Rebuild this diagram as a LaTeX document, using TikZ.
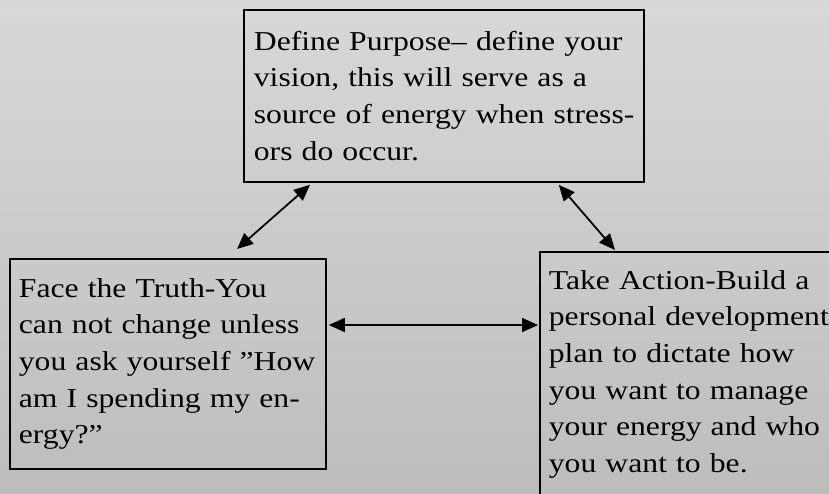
\documentclass[tikz,border=0pt]{standalone}
\usepackage{fontspec}
\setmainfont[FakeStretch=1.16]{Liberation Serif}
\usetikzlibrary{arrows.meta,calc,shapes}
\definecolor{bgtop}{RGB}{216,216,216}
\definecolor{bgbot}{RGB}{189,189,189}
\tikzset{
	>={Triangle[length=16pt,width=14pt]},
	boks/.style={
		rectangle,
		draw=black, line width=1.8pt,
		anchor=north west,
		align=left,
		inner ysep=0pt,
		font=\fontsize{27.3}{36.7}\selectfont},
	link/.style={draw, line width=1.8pt, <->},
}

\begin{document}
\begin{tikzpicture}[x=1pt,y=-1pt]
\useasboundingbox (0,0) rectangle (829,493);
\clip (0,0) rectangle (829,493);
\shade[top color=bgtop, bottom color=bgbot] (0,0) rectangle (829,493);

\node[boks, minimum width=400pt, minimum height=172pt, inner xsep=10pt, text width=380pt]
	(purpose) at (243,9) {Define Purpose-- define your\\ vision, this will serve as a\\
	\mbox{source of energy when stress-}\\ ors do occur.};
\node[boks, minimum width=316pt, minimum height=210pt, inner xsep=9pt, text width=298pt]
	(truth) at (9,258) {Face the Truth-You\\ can not change unless\\
	you ask yourself ”How\\ am I spending my en-\\ ergy?”};
\node[boks, minimum width=310pt, minimum height=245pt, inner xsep=9pt, text width=292pt]
	(action) at (539,251) {Take Action-Build a\\ personal development\\
	plan to dictate how\\ you want to manage\\ your energy and who\\ you want to be.};

\draw[link] ([shift={(67,2)}]purpose.south west) -- ([shift={(228,-9)}]truth.north west);
\draw[link] ([shift={(-86,2)}]purpose.south east) -- ([shift={(76,-1)}]action.north west);
\draw[link] ([shift={(2,67)}]truth.north east) -- ([shift={(-1,74)}]action.north west);
\end{tikzpicture}
\end{document}
